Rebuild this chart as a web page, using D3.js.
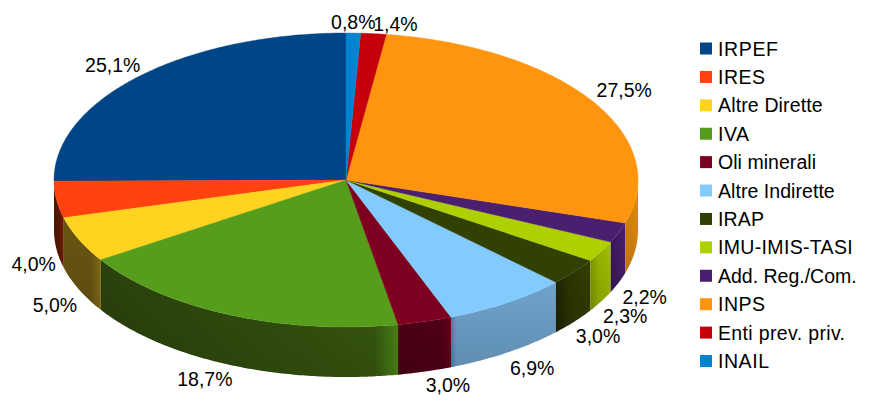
<!DOCTYPE html>
<html><head><meta charset="utf-8">
<script src="https://d3js.org/d3.v7.min.js"></script>
<style>html,body{margin:0;background:#fff}svg{display:block}text{font-family:"Liberation Sans",sans-serif;fill:#000}</style>
</head><body><svg id="c" width="872" height="410"></svg>
<script>
const categories=["IRPEF","IRES","Altre Dirette","IVA","Oli minerali","Altre Indirette","IRAP","IMU-IMIS-TASI","Add. Reg./Com.","INPS","Enti prev. priv.","INAIL"];
const shares=[25.1,4.0,5.0,18.7,3.0,6.9,3.0,2.3,2.2,27.5,1.4,0.8];
const shareLabels=["25,1%","4,0%","5,0%","18,7%","3,0%","6,9%","3,0%","2,3%","2,2%","27,5%","1,4%","0,8%"];
const colors=["#004586","#ff420e","#ffd320","#579d1c","#7e0021","#83caff","#314004","#aecf00","#4b1f6f","#ff950e","#c5000b","#0084d1"];
const wallDark=["#002a50","#4f1604","#6a5512","#2a420c","#4c0015","#4f82ab","#1c2400","#7f9900","#3a1858","#d98512","#7a0007","#005a90"];
const wallMid=["#002a50","#5f1a05","#6a5512","#38590f","#500016","#6fa3cc","#2c3602","#98b500","#431c64","#e08810","#7a0007","#005a90"];
const wallLight=["#002a50","#7a2405","#8a7018","#4e8a18","#6d001c","#6fa3cc","#333d02","#a2c000","#4b1f6f","#e68c10","#7a0007","#005a90"];
const wallStops=[[.7,1],[.6,1],[.72,1],[.92,1],[.85,1],[.05,1],[.4,1],[.4,1],[.5,1],[.5,1],[.5,1],[.5,1]];
const labelNudge=[[-26,-11],[-23,64],[-24,65],[-25,64],[23,63],[25,65],[24,64],[24,64],[26,64],[32,-11],[22,-10],[0,-11]];
const legendWidths=[60,47,104.7,31,98,116.7,46,134.7,138.7,47,127,51];

const svg=d3.select("#c");
const x=d3.scaleLinear().domain([-1,1]).range([54,638]);
const y=d3.scaleLinear().domain([-1,1]).range([33,327]);
const depth=50;
const px=a=>x(Math.sin(a)), py=a=>y(-Math.cos(a));
const arcs=d3.pie().sort(null).value(d=>d).startAngle(0).endAngle(-2*Math.PI)(shares);
const line=d3.line();
const steps=(a0,a1)=>{const n=Math.max(2,Math.ceil(Math.abs(a1-a0)/0.01));return d3.range(n+1).map(i=>a0+(a1-a0)*i/n);};
const defs=svg.append("defs");
const shade=defs.append("linearGradient").attr("id","shade").attr("x1",0).attr("x2",0).attr("y1",0).attr("y2",1);
shade.append("stop").attr("offset",0).attr("stop-color","#000").attr("stop-opacity",0);
shade.append("stop").attr("offset",1).attr("stop-color","#000").attr("stop-opacity",0.13);

// side walls (front half only)
const frontA=-Math.PI/2, frontB=-3*Math.PI/2;
arcs.forEach((d,i)=>{
  const a0=Math.min(d.startAngle,frontA), a1=Math.max(d.endAngle,frontB);
  if(a1>=a0) return;
  const s=steps(a0,a1);
  const top=s.map(a=>[px(a),py(a)]);
  const bot=s.slice().reverse().map(a=>[px(a),py(a)+depth]);
  const xs=top.map(p=>p[0]);
  const g=defs.append("linearGradient").attr("id","w"+i).attr("gradientUnits","userSpaceOnUse")
    .attr("x1",d3.min(xs)).attr("x2",d3.max(xs)).attr("y1",0).attr("y2",0);
  g.append("stop").attr("offset",0).attr("stop-color",wallDark[i]);
  g.append("stop").attr("offset",wallStops[i][0]).attr("stop-color",wallMid[i]);
  g.append("stop").attr("offset",wallStops[i][1]).attr("stop-color",wallLight[i]);
  const dPath=line(top.concat(bot))+"Z";
  svg.append("path").attr("d",dPath).attr("fill",`url(#w${i})`);
  svg.append("path").attr("d",dPath).attr("fill","url(#shade)");
});

// top surfaces
svg.selectAll("path.top").data(arcs).join("path").attr("class","top")
  .attr("d",d=>line([[x(0),y(0)]].concat(steps(d.startAngle,d.endAngle).map(a=>[px(a),py(a)])))+"Z")
  .attr("fill",(d,i)=>colors[i]).attr("stroke",(d,i)=>colors[i]).attr("stroke-width",0.4);

// value labels
svg.selectAll("text.val").data(arcs).join("text").attr("class","val")
  .attr("text-anchor","middle").attr("font-size",19.5).attr("dy","0.36em")
  .attr("x",(d,i)=>px((d.startAngle+d.endAngle)/2)+labelNudge[i][0])
  .attr("y",(d,i)=>py((d.startAngle+d.endAngle)/2)+labelNudge[i][1])
  .text((d,i)=>shareLabels[i]);

// legend
const ly=d3.scalePoint().domain(categories).range([48.5,361]);
const lg=svg.selectAll("g.l").data(categories).join("g").attr("class","l")
  .attr("transform",d=>`translate(700,${ly(d)})`);
lg.append("rect").attr("x",0).attr("y",-6).attr("width",12).attr("height",12).attr("fill",(d,i)=>colors[i]);
lg.append("text").attr("x",18).attr("dy","0.36em").attr("font-size",19.5)
  .attr("textLength",(d,i)=>legendWidths[i]).attr("lengthAdjust","spacing").text(d=>d);
</script></body></html>
